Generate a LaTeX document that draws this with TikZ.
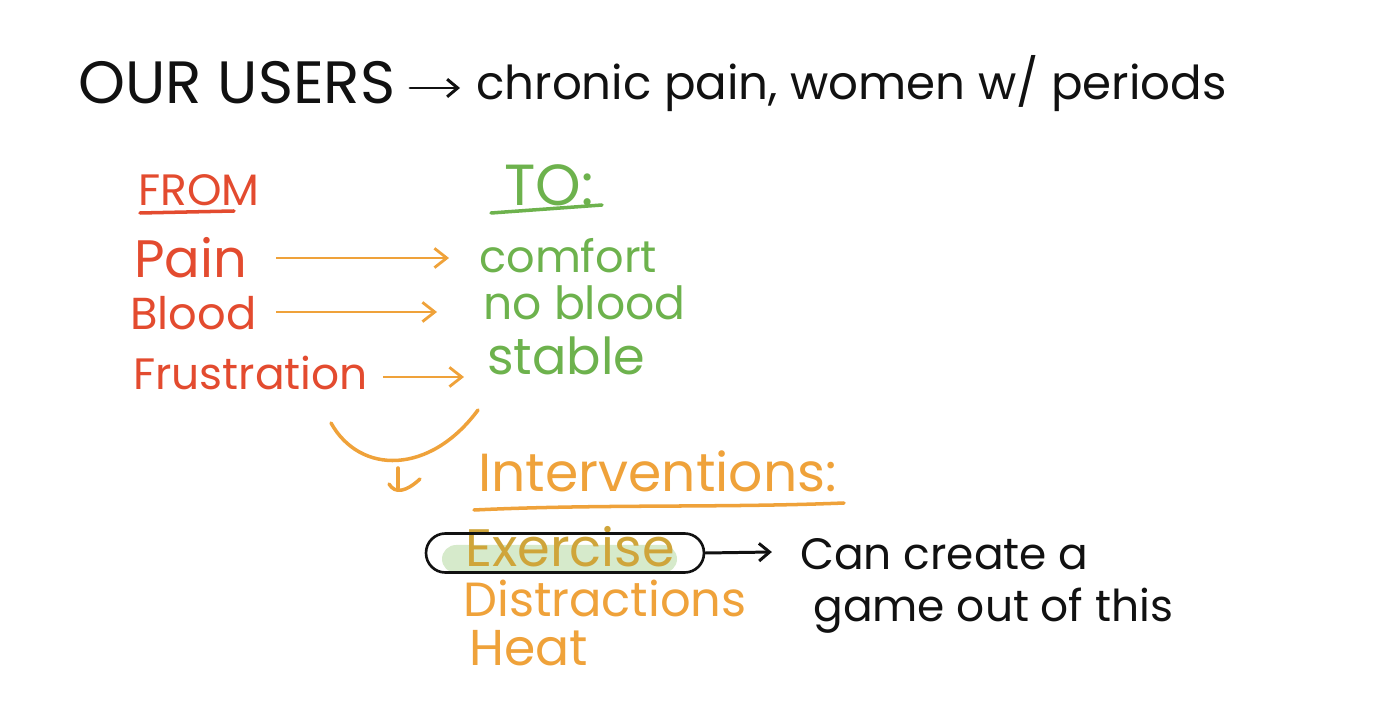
\documentclass[tikz,border=0pt]{standalone}
\usepackage{fontspec}
\setmainfont{Poppins}
\usetikzlibrary{positioning, arrows.meta, calc}
\definecolor{inkBlack}{HTML}{111111}
\definecolor{fromRed}{HTML}{E34B2F}
\definecolor{toGreen}{HTML}{6DB24D}
\definecolor{ivOrange}{HTML}{EFA23A}
\definecolor{hiGreen}{HTML}{D6EACB}
\definecolor{exOlive}{HTML}{CFA53A}
\newcommand{\hand}[1]{\fontsize{#1}{#1}\selectfont}

\begin{document}
\begin{tikzpicture}[x=0.02cm, y=-0.02cm,
  txt/.style={inner sep=0pt, anchor=base west},
  fromtxt/.style={txt, text=fromRed, font=\hand{26pt}},
  totxt/.style={txt, text=toGreen, font=\hand{26pt}},
  ivtxt/.style={txt, text=ivOrange, font=\hand{26pt}},
  note/.style={txt, text=inkBlack, font=\hand{25pt}},
  flow/.style={draw=ivOrange, line width=1.6pt, -{Straight Barb[length=7pt, width=11pt, line width=1.6pt]}},
  pen/.style={draw=inkBlack, line width=1.7pt, line cap=round},
  uline/.style={line width=2pt, line cap=round}]
\useasboundingbox (0,0) rectangle (1376,722);
% title line
\node[note, font=\hand{34pt}] (users) at (78,104) {OUR USERS};
\node[note, font=\hand{26.6pt}] (chronic) at (476,100) {chronic pain, women w/ periods};
\draw[pen, -{Straight Barb[length=6pt, width=10pt, line width=1.7pt]}] (410,88) -- (460,88);
% from / to headings
\node[fromtxt, font=\hand{25pt}] (from) at (138,206) {FROM};
\draw[uline, fromRed] (140,213) -- (234,211);
\node[totxt, font=\hand{33pt}] (to) at (504,206) {TO:};
\draw[uline, toGreen] (491,213) -- (602,205);
% from column
\node[fromtxt, font=\hand{30pt}] (pain) at (134,278) {Pain};
\node[fromtxt, font=\hand{25.5pt}] (blood) at (130,330) {Blood};
\node[fromtxt, font=\hand{25pt}] (frust) at (133,390) {Frustration};
% to column
\node[totxt, font=\hand{25.4pt}] (comfort) at (479,273) {comfort};
\node[totxt] (noblood) at (483,320) {no blood};
\node[totxt, font=\hand{29pt}] (stable) at (487,375) {stable};
% arrows
\draw[flow] (276,258) -- (449,258);
\draw[flow] (276,312) -- (437,312);
\draw[flow] (383,377) -- (464,377);
% bend down to interventions
\coordinate (bendA) at (331,423);
\coordinate (bendB) at (478,410);
\draw[uline, ivOrange] (bendA) .. controls (360,475) and (430,475) .. (bendB);
\draw[uline, ivOrange] (398,468) -- (398,488);
\draw[uline, ivOrange] (389,484) .. controls (395,494) and (406,492) .. (420,479);
% interventions
\node[ivtxt, font=\hand{30.5pt}] (interv) at (478,492) {Interventions:};
\draw[uline, ivOrange] (474,510) .. controls (600,504) and (720,508) .. (844,503);
\fill[hiGreen, rounded corners=8pt] (442,545) rectangle (677,573);
\node[ivtxt, text=exOlive, font=\hand{30pt}] (exercise) at (465,566) {Exercise};
\node[draw=inkBlack, line width=1.5pt, rounded corners=11pt, minimum width=5.56cm, minimum height=0.78cm] (exloop) at (565,553) {};
\node[ivtxt, font=\hand{27.3pt}] (distr) at (463,617) {Distractions};
\node[ivtxt, font=\hand{28.7pt}] (heat) at (469,665) {Heat};
% note
\node[note] (can) at (800,570) {Can create a};
\node[note] (game) at (813,622) {game out of this};
\draw[pen, -{Straight Barb[length=6pt, width=10pt, line width=1.7pt]}] (exloop.east) -- ([xshift=-16pt]can.west |- 0,552);
\end{tikzpicture}
\end{document}
